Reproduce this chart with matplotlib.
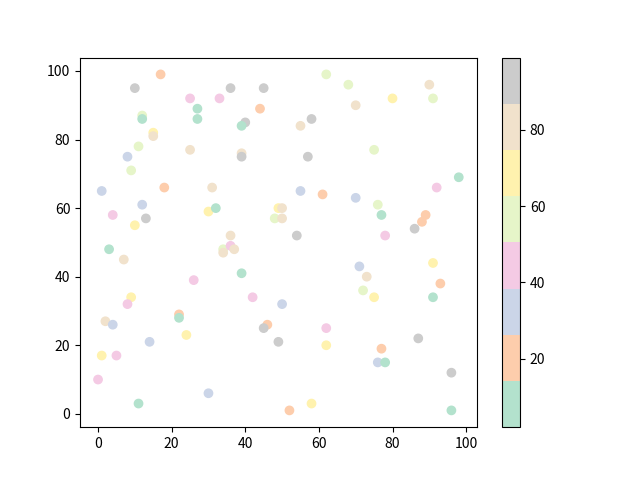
import matplotlib
matplotlib.use("Agg")
import matplotlib.pyplot as plt

plt.rcParams['font.family'] = ['Noto Sans CJK SC', 'DejaVu Sans']

# values
x = [17, 10, 25, 33, 36, 45, 27, 44, 12, 12, 27, 40, 39, 15, 15, 11, 25, 39, 39, 8,
     9, 1, 18, 31, 12, 4, 13, 10, 30, 32, 36,
     62, 68, 90, 80, 91, 70, 58, 55, 75, 57, 98, 92, 55, 61, 70, 76, 77, 89, 88,
     86, 54, 78, 49, 50, 48, 50,
     3, 7, 34, 34, 36, 37, 39, 26, 42, 9, 8, 22, 22, 2, 4, 24, 14, 1, 5,
     0, 11, 30, 46, 45, 49, 50,
     71, 73, 72, 75, 91, 93, 91, 62, 62, 87, 77, 76, 78, 96, 96, 52, 58]
y = [99, 95, 92, 92, 95, 95, 89, 89, 87, 86, 86, 85, 84, 82, 81, 78, 77, 76, 75, 75,
     71, 65, 66, 66, 61, 58, 57, 55, 59, 60, 52,
     99, 96, 96, 92, 92, 90, 86, 84, 77, 75, 69, 66, 65, 64, 63, 61, 58, 58, 56,
     54, 52, 52, 60, 60, 57, 57,
     48, 45, 48, 47, 49, 48, 41, 39, 34, 34, 32, 29, 28, 27, 26, 23, 21, 17, 17,
     10, 3, 6, 26, 25, 21, 32,
     43, 40, 36, 34, 44, 38, 34, 25, 20, 22, 19, 15, 15, 12, 1, 1, 3]
c = [19, 91, 45, 42, 93, 88, 9, 22, 55, 6, 11, 94, 4, 70, 81, 57, 79, 84, 90, 31,
     53, 33, 17, 78, 29, 47, 96, 66, 72, 12,
     83,
     58, 52, 80, 68, 60, 77, 89, 85, 51, 92, 8, 41, 35, 21, 27, 59, 10, 24, 16,
     97, 87, 46, 64, 75, 54, 82,
     2, 76, 56, 81, 48, 78, 13, 40, 44, 69, 39, 15, 7, 85, 30, 63, 34, 65, 43,
     39, 5, 28, 18, 99, 90, 36,
     32, 80, 61, 71, 67, 23, 3, 43, 73, 95, 20, 28, 12, 88, 9, 25, 66]

fig, ax = plt.subplots()
sc = ax.scatter(x, y, c=c, cmap='Pastel2')
fig.colorbar(sc)

plt.savefig("out.png")
